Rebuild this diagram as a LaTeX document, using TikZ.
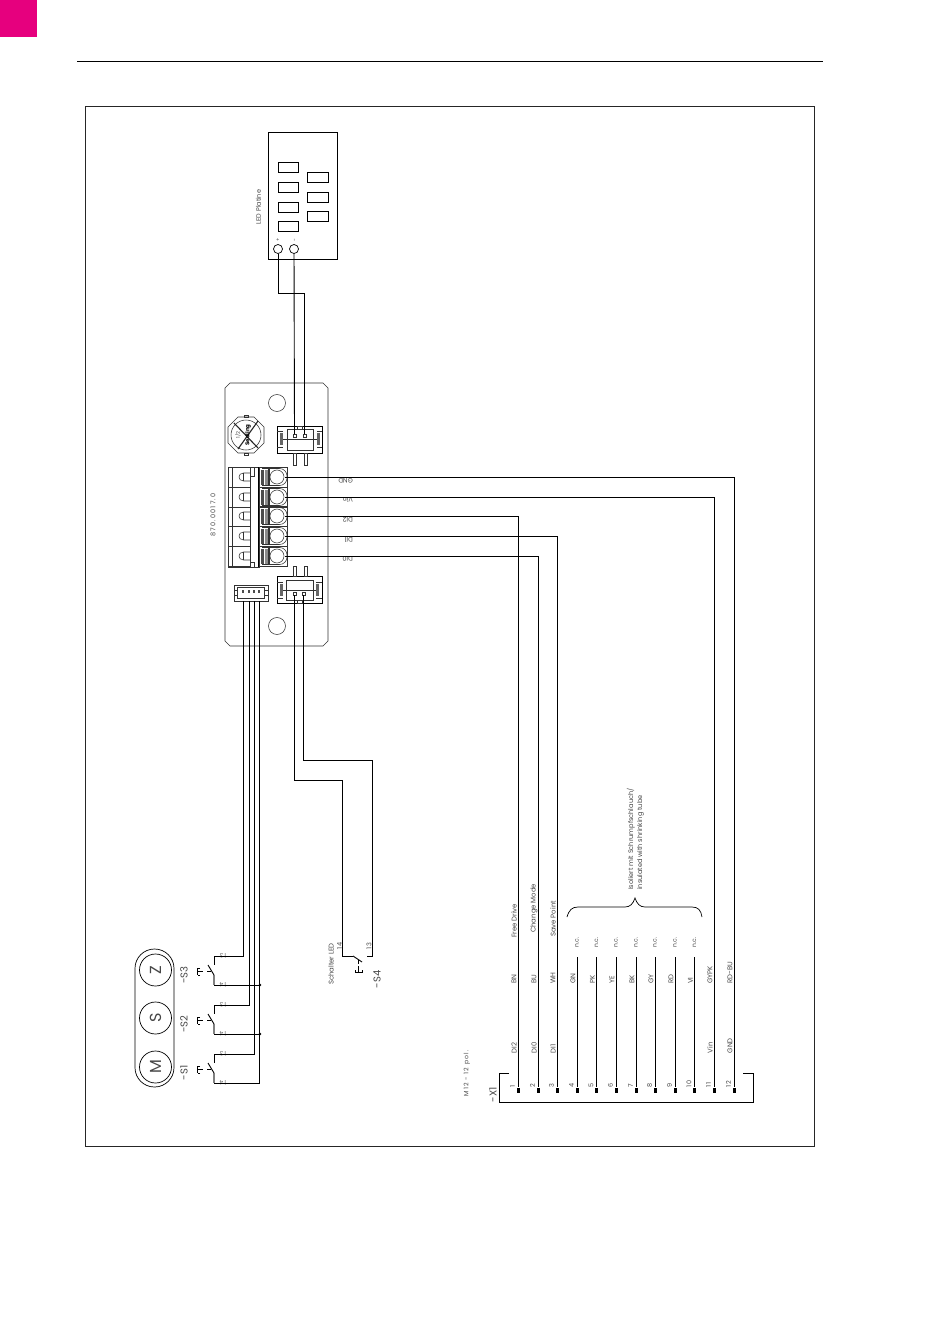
\documentclass[tikz,border=0pt]{standalone}
\usepackage{fontspec}
\setmainfont{Poppins}
\newfontfamily\numf[LetterSpace=18]{Poppins}
\usetikzlibrary{decorations.pathreplacing}
\definecolor{mag}{HTML}{E6007E}
\definecolor{txt}{gray}{0.28}
\tikzset{
 x=1pt,y=-1pt,
 ln/.style={draw=black,line width=0.7pt},
 wire/.style={draw=black,line width=0.9pt},
 part/.style={draw=black!80,line width=0.55pt},
 lab/.style={inner sep=0,text=txt,rotate=90,font=\fontsize{6.9}{8}\selectfont},
 labs/.style={lab,font=\fontsize{6}{7.2}\selectfont},
 labn/.style={lab,font=\fontsize{6.5}{8}\numf},
 labb/.style={lab,font=\fontsize{10}{11}\selectfont},
 upd/.style={inner sep=0,text=txt,rotate=180,font=\fontsize{6.5}{7}\selectfont},
 updn/.style={inner sep=0,text=black!60,rotate=180,font=\fontsize{6}{7}\numf},
 pinend/.style={fill=black,draw=none,minimum width=3pt,minimum height=5pt,inner sep=0},
}
\begin{document}
\begin{tikzpicture}
\useasboundingbox (0,0) rectangle (950,1344);
\fill[white] (0,0) rectangle (950,1344);
\fill[mag] (0,0) rectangle (37,37);
\draw[ln] (77,61) -- (823,61);
\draw[draw=black!85,line width=0.6pt] (85,106) rectangle (814,1146);

% LED board
\node[ln,minimum width=69pt,minimum height=127pt,inner sep=0] (led) at (302.5,195.5) {};
\foreach \y in {167,187,207,226}{\draw[ln] (278,\y-5) rectangle (298,\y+5);}
\foreach \y in {177,197,216}{\draw[ln] (307,\y-5) rectangle (328,\y+5);}
\node[ln,circle,minimum size=9pt,inner sep=0] (lp) at (278,249) {};
\node[ln,circle,minimum size=9pt,inner sep=0] (lm) at (294,249) {};
\node[inner sep=0,text=txt,font=\fontsize{5}{6}\selectfont,rotate=90] at (278,240) {+};
\node[inner sep=0,text=txt,font=\fontsize{5}{6}\selectfont,rotate=90] at (295,240) {-};
\node[lab,font=\fontsize{6.5}{8}\selectfont] at (258.5,207) {LED Platine};

% controller board
\draw[part] (230,383) -- (323,383) -- (328,388) -- (328,641) -- (323,646) -- (230,646) -- (225,641) -- (225,388) -- cycle;
\node[part,circle,minimum size=17pt,inner sep=0] at (277,403) {};
\node[part,circle,minimum size=17pt,inner sep=0] at (277,626) {};
\node[labn] at (213,515) {870.0017.0};

% fuse
\begin{scope}[shift={(246,435)}]
\draw[part] (-18,-8) -- (-8,-18) -- (8,-18) -- (18,-8) -- (18,8) -- (8,18) -- (-8,18) -- (-18,8) -- cycle;
\draw[part] (0,0) circle (15);
\draw[line width=1.1pt,black!85] (-12,-12) -- (12,13);
\draw[line width=1.1pt,black!85] (-8,14) -- (12,-14);
\node[inner sep=0,rotate=90,font=\fontsize{5.5}{6}\bfseries\selectfont] at (2,0) {Sealing};
\node[inner sep=0,rotate=90,font=\fontsize{5}{6}\selectfont,text=txt] at (-8,0) {1/2};
\draw[part] (-2,-20) rectangle (2,-18);
\draw[part] (-2,18) rectangle (2,20);
\end{scope}

% upper connector
\draw[ln] (277,426) rectangle (322,453);
\draw[part] (287,429) rectangle (313,450);
\draw[part] (282,439) -- (318,439);
\fill[black!60] (280,433) rectangle (283,445);
\fill[black!60] (317,433) rectangle (320,445);
\draw[part] (277,431) -- (283,431) (322,431) -- (317,431) (277,447) -- (283,447) (322,447) -- (317,447);
\draw[part] (297,426) rectangle (302,429);
\draw[part] (293,453) rectangle (296,465);
\draw[part] (304,453) rectangle (307,465);
\draw[part] (293,434) rectangle (296,437);
\draw[part] (303,434) rectangle (306,437);
\coordinate (uca) at (294.5,434);
\coordinate (ucb) at (304.5,434);

% lower connector
\draw[ln] (277,576) rectangle (322,603);
\draw[part] (286,580) rectangle (313,600);
\draw[part] (282,590) -- (318,590);
\fill[black!60] (280,584) rectangle (283,596);
\fill[black!60] (316,584) rectangle (319,596);
\draw[part] (277,582) -- (283,582) (322,582) -- (316,582) (277,598) -- (283,598) (322,598) -- (316,598);
\draw[part] (293,566) rectangle (296,576);
\draw[part] (304,566) rectangle (307,576);
\draw[part] (293,592) rectangle (296,595);
\draw[part] (302,592) rectangle (305,595);
\draw[part] (297,600) rectangle (302,603);
\coordinate (lca) at (294.5,595);
\coordinate (lcb) at (303.5,595);

% terminal block
\draw[part] (228,467) rectangle (250,567);
\draw[part] (232,467) -- (232,567);
\draw[part] (250,467) rectangle (259,567);
\draw[part] (250,476) -- (254,476) -- (254,467) (250,476) -- (250,562) -- (254,562) -- (254,567);
\draw[line width=1.4pt] (259,467) -- (259,567);
\foreach \y/\n in {477/a,497/b,516/c,536/d,556/e}{
  \draw[part] (259,\y-10) rectangle (287,\y+10);
  \fill[black!70] (261,\y-7.5) rectangle (264,\y+7.5);
  \fill[black!45] (265,\y-7.5) rectangle (267.5,\y+7.5);
  \draw[part] (268,\y-8) -- (269,\y-8) -- (269,\y+8) -- (268,\y+8) -- cycle;
  \draw[part,rounded corners=7.5pt] (262,\y-8.5) -- (287,\y-8.5) -- (287,\y+8.5) -- (262,\y+8.5);
  \draw[part] (277,\y) circle (7);
  \draw[part] (228,\y+10) -- (250,\y+10);
  \draw[part] (250,\y-4) -- (243.5,\y-4) .. controls (240.5,\y-4) and (239,\y-2) .. (239,\y) .. controls (239,\y+2) and (240.5,\y+4) .. (243.5,\y+4) -- (250,\y+4);
  \draw[part] (243.5,\y-4) -- (243.5,\y+4);
  \coordinate (t\n) at (285,\y);
}

\node[upd,anchor=west] at (353,481) {GND};
\node[upd,anchor=west] at (353,499.5) {Vin};
\node[upd,anchor=west] at (353,520) {DI2};
\node[upd,anchor=west] at (353,539.5) {DI1};
\node[upd,anchor=west] at (353,558.5) {DI0};

% four pin connector
\draw[part] (234,585) rectangle (268,601);
\draw[part] (237.5,587) rectangle (264.5,598);
\draw[part] (237.5,590) -- (234,590) (237.5,595) -- (234,595) (264.5,590) -- (268,590) (264.5,595) -- (268,595);
\foreach \x in {243,249,254,259}{\fill[black!70] (\x-.9,590) rectangle (\x+.9,592.5);}
\coordinate (pa) at (243,601);
\coordinate (pb) at (249,601);
\coordinate (pc) at (254,601);
\coordinate (pd) at (259,601);

% X1
\draw[wire] (509,1073) -- (499,1073) -- (499,1102) -- (753,1102) -- (753,1073) -- (743,1073);
\node[labb,anchor=west] at (493,1102.5) {-X1};
\node[labn,anchor=west,font=\fontsize{6.2}{8}\numf] at (467,1096.5) {M12 - 12 pol.};
\foreach \i/\x in {1/518,2/538,3/557,4/577,5/596.5,6/616,7/636,8/655,9/675,10/694.5,11/714,12/734}{
  \node[pinend] (x\i) at (\x,1090) {};
  \node[labn,anchor=west] at (\x-5.5,1088) {\i};
}
\foreach \x/\c in {518/BN,538/BU,557/WH,577/GN,596.5/PK,616/YE,636/BK,655/GY,675/RD,694.5/VI,714/GYPK,734/RD-BU}{
  \node[lab,anchor=west] at (\x-4,984) {\c};
}
\foreach \x/\s in {518/DI2,538/DI0,557/DI1,714/Vin,734/GND}{
  \node[lab,anchor=west] at (\x-4,1053.5) {\s};
}
\foreach \i/\x in {4/577,5/596.5,6/616,7/636,8/655,9/675,10/694.5}{
  \coordinate (nc\i) at (\x,957);
  \draw[wire] (nc\i) -- (x\i);
  \node[labs,anchor=west] at (\x,947.5) {n.c.};
}
\node[lab,anchor=west] at (514,938) {Free Drive};
\node[lab,anchor=west] at (534,933) {Change Mode};
\node[lab,anchor=west] at (553,937) {Save Point};
\node[lab,anchor=west,align=left,font=\fontsize{6.6}{9}\selectfont] at (635.5,890) {Isoliert mit Schrumpfschlauch/\\insulated with shrinking tube};
\draw[ln] (567,917) .. controls (569,910) and (572,907) .. (578,907) -- (625,907) .. controls (630,907) and (633,904) .. (635,898) .. controls (637,904) and (640,907) .. (645,907) -- (692,907) .. controls (698,907) and (701,910) .. (702,917);

% terminal wires
\draw[wire] (ta) -- (734,477) -- (x12);
\draw[wire] (tb) -- (714,497) -- (x11);
\draw[wire] (tc) -- (518,516) -- (x1);
\draw[wire] (td) -- (557,536) -- (x3);
\draw[wire] (te) -- (538,556) -- (x2);

% LED wires
\draw[wire] (lp) -- (278,293) -- (304.5,293) -- (ucb);
\draw[wire] (lm) -- (uca);

% switch S4
\node[lab,anchor=west] at (331,985) {Schalter LED};
\node[labn] at (339.5,946) {14};
\node[labn] at (369,946) {13};
\node[labb,anchor=west] at (377,988.5) {-S4};
\draw[wire] (lca) -- (294.5,780) -- (342.5,780) -- (342.5,956) -- (353,956);
\draw[wire] (lcb) -- (303.5,760) -- (372,760) -- (372,956) -- (367,956);
\draw[wire] (353,956) -- (362,962);
\draw[ln] (358.5,960) -- (358.5,964);
\draw[ln] (358.5,966) -- (358.5,972) (355,970) -- (355,972) -- (362,972) -- (362,970);

% switches
\foreach \s/\y/\yt/\ya/\yb/\yc/\yd in {3/956/985/965/968/971.5/975,2/1005/1034/1014/1017/1020.5/1024,1/1054/1083/1063/1066/1069.5/1073}{
  \coordinate (sw\s) at (214,\y);
  \coordinate (sb\s) at (214,\yt);
  \draw[wire] (214,\y) -- (214,\ya);
  \draw[draw=black!50,line width=1.2pt] (214,\yt) -- (214,\yd);
  \draw[wire] (214,\yd) -- (208,\ya);
  \draw[ln] (197.5,\yb) -- (197.5,\yd);
  \draw[ln] (200,\yb) -- (197.5,\yb) (197.5,\yc) -- (203,\yc) (200,\yd) -- (197.5,\yd);
  \draw[ln] (207,\yc) -- (210.5,\yc);
  \node[updn] at (223,\y) {13};
  \node[updn] at (223,\yt) {14};
}
\node[labb] at (184,975) {-S3};
\node[labb] at (184,1024) {-S2};
\node[labb] at (184,1073) {-S1};

\draw[wire] (pa) -- (243,956) -- (sw3);
\draw[wire] (pb) -- (249,1005) -- (sw2);
\draw[wire] (pc) -- (254,1054) -- (sw1);
\draw[wire] (pd) -- (259,1083) -- (sb1);
\draw[wire] (sb3) -- (260,985);
\draw[wire] (sb2) -- (260,1034);
\fill (260,985) circle (1.3);
\fill (260,1034) circle (1.3);

% M S Z
\draw[ln,rounded corners=19.4pt] (135,949) rectangle (174,1087);
\node[ln,circle,minimum size=32pt,inner sep=0] (z) at (155.5,970) {};
\node[ln,circle,minimum size=32pt,inner sep=0] (s) at (155.5,1018) {};
\node[ln,circle,minimum size=32pt,inner sep=0] (m) at (155.5,1067) {};
\node[inner sep=0,rotate=90,font=\fontsize{16}{18}\selectfont,text=txt] at (z) {Z};
\node[inner sep=0,rotate=90,font=\fontsize{16}{18}\selectfont,text=txt] at (s) {S};
\node[inner sep=0,rotate=90,font=\fontsize{16}{18}\selectfont,text=txt] at (m) {M};
\end{tikzpicture}
\end{document}
